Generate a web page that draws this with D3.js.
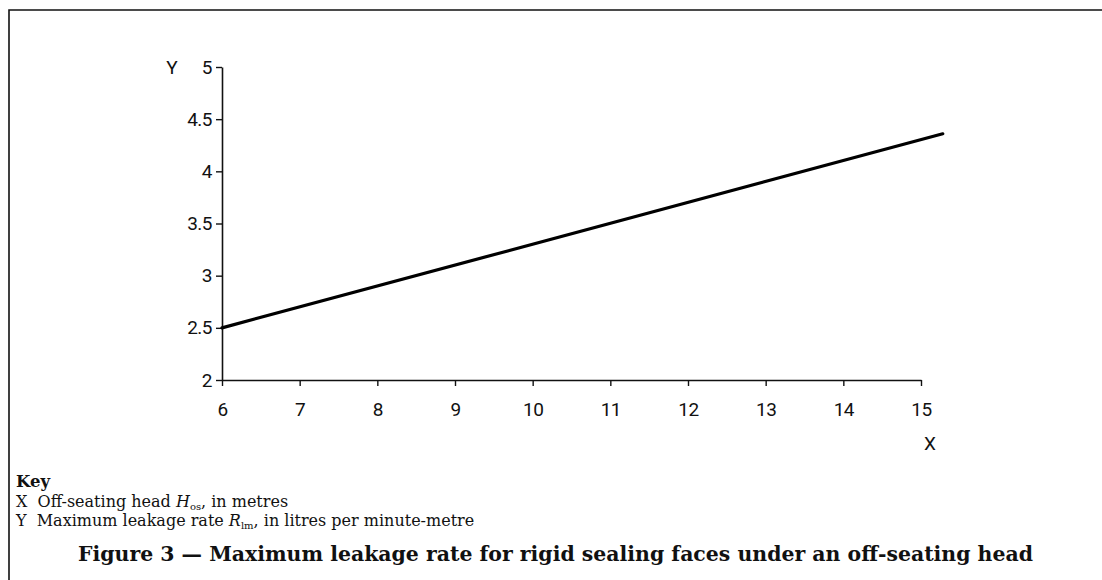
<!DOCTYPE html>
<html><head><meta charset="utf-8">
<script src="https://cdn.jsdelivr.net/npm/d3@7"></script>
<style>html,body{margin:0;padding:0;background:#fff;}svg{display:block;}</style>
</head><body>
<script>
const xTicks = [6,7,8,9,10,11,12,13,14,15];
const yTicks = [2,2.5,3,3.5,4,4.5,5];
const yTickLabels = ["2","2.5","3","3.5","4","4.5","5"];
const lineX = [6, 15.28];
const lineY = [2.5, 4.36];
const keyLines = ["X", "Y"];
const title = "Figure 3 \u2014 Maximum leakage rate for rigid sealing faces under an off-seating head";

const W = 1102, H = 580;
const svg = d3.select("body").append("svg").attr("width", W).attr("height", H);

// frame
svg.append("path").attr("d", "M9,580 L9,10 L1102,10").attr("fill","none").attr("stroke","#111").attr("stroke-width",1.6);

const x = d3.scaleLinear().domain([6,15]).range([222,921]);
const y = d3.scaleLinear().domain([2,5]).range([380,67]);
const tickFont = "'Roboto',sans-serif";

const gx = svg.append("g").attr("transform","translate(0,380)")
  .call(d3.axisBottom(x).tickValues(xTicks).tickSize(6).tickSizeOuter(0).tickPadding(17).tickFormat(d3.format("d")));
const gy = svg.append("g").attr("transform","translate(222,0)")
  .call(d3.axisLeft(y).tickValues(yTicks).tickSize(6).tickSizeOuter(0).tickPadding(4).tickFormat((d,i)=>yTickLabels[i]));
[gx,gy].forEach(g=>{
  g.select(".domain").attr("stroke","#111").attr("stroke-width",1.6);
  g.selectAll(".tick line").attr("stroke","#111").attr("stroke-width",1.4);
  g.selectAll(".tick text").attr("fill","#111").style("font-family",tickFont).style("font-size","19px").style("letter-spacing","-0.5px");
});

svg.append("text").attr("x",172).attr("y",67).attr("dy","0.35em").attr("text-anchor","middle")
  .style("font-family",tickFont).style("font-size","19px").attr("fill","#111").text("Y");
svg.append("text").attr("x",930).attr("y",443).attr("dy","0.35em").attr("text-anchor","middle")
  .style("font-family",tickFont).style("font-size","19px").attr("fill","#111").text("X");

const data = lineX.map((v,i)=>[v,lineY[i]]);
svg.append("path").datum(data).attr("fill","none").attr("stroke","#000").attr("stroke-width",3.2)
  .attr("stroke-linecap","round")
  .attr("d", d3.line().x(d=>x(d[0])).y(d=>y(d[1])));

// key
const serif = "'DejaVu Serif',serif";
svg.append("text").attr("x",16).attr("y",487).style("font-family",serif).style("font-weight","bold")
  .style("font-size","16.5px").attr("fill","#111").text("Key");
const k1 = svg.append("text").attr("x",16).attr("y",507).style("font-family",serif).style("font-size","16px").attr("fill","#111");
k1.append("tspan").text(keyLines[0] + "\u00a0 Off-seating head ");
k1.append("tspan").style("font-style","italic").text("H");
k1.append("tspan").attr("dy",3).style("font-size","10px").text("os");
k1.append("tspan").attr("dy",-3).text(", in metres");
const k2 = svg.append("text").attr("x",16).attr("y",526).style("font-family",serif).style("font-size","16px").attr("fill","#111");
k2.append("tspan").text(keyLines[1] + "\u00a0 Maximum leakage rate ");
k2.append("tspan").style("font-style","italic").text("R");
k2.append("tspan").attr("dy",3).style("font-size","10px").text("lm");
k2.append("tspan").attr("dy",-3).text(", in litres per minute-metre");

svg.append("text").attr("x",78).attr("y",561).attr("textLength",955).attr("lengthAdjust","spacingAndGlyphs")
  .style("font-family","'DejaVu Serif',serif").style("font-weight","bold").style("font-size","21px")
  .attr("fill","#111").text(title);
</script>
</body></html>
